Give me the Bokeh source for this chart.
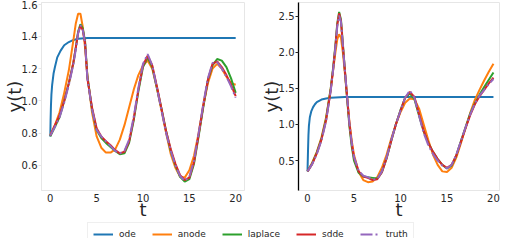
from bokeh.plotting import figure
from bokeh.layouts import column, row
from bokeh.models import FixedTicker, Legend, LegendItem, Range1d, ColumnDataSource, NumeralTickFormatter
from bokeh.embed import file_html
from bokeh.resources import INLINE

# ---------------- data ----------------
series_names = ["ode", "anode", "laplace", "sdde", "truth"]
colors = ["#1f77b4", "#ff7f0e", "#2ca02c", "#d62728", "#9467bd"]

# left panel
t_left = [0, 0.5, 1, 1.5, 2, 2.5, 2.75, 3, 3.25, 3.5, 3.75, 4, 4.5, 5, 5.5, 6, 6.5, 7, 7.5, 8,
          8.5, 9, 9.5, 10, 10.5, 11, 11.5, 12, 12.5, 13, 13.5, 14, 14.5, 15, 15.5, 16, 16.5,
          17, 17.5, 18, 18.5, 19, 19.5, 20]
t_ode_left = [0, 0.03, 0.07, 0.12, 0.2, 0.35, 0.5, 0.75, 1.1, 1.5, 2, 2.5, 3, 4, 20]
ode_left = [0.78, 0.88, 0.97, 1.04, 1.10, 1.17, 1.21, 1.27, 1.31, 1.345, 1.365, 1.378, 1.385, 1.39, 1.39]
anode_left = [0.79, 0.85, 0.93, 1.05, 1.19, 1.38, 1.48, 1.54, 1.54, 1.46, 1.33, 1.16, 0.93, 0.78,
              0.71, 0.68, 0.68, 0.70, 0.76, 0.85, 0.96, 1.07, 1.16, 1.22, 1.25, 1.20, 1.08, 0.94,
              0.80, 0.67, 0.585, 0.53, 0.525, 0.57, 0.66, 0.80, 0.97, 1.11, 1.20, 1.23, 1.20,
              1.15, 1.11, 1.10]
laplace_left = [0.78, 0.84, 0.90, 1.00, 1.11, 1.24, 1.33, 1.43, 1.475, 1.45, 1.37, 1.15, 0.95,
                0.82, 0.77, 0.74, 0.715, 0.69, 0.67, 0.675, 0.74, 0.88, 1.06, 1.21, 1.27, 1.21,
                1.08, 0.95, 0.81, 0.69, 0.60, 0.53, 0.50, 0.515, 0.61, 0.78, 0.96, 1.13, 1.22,
                1.26, 1.25, 1.21, 1.14, 1.05]
sdde_left = [0.785, 0.85, 0.91, 1.00, 1.11, 1.24, 1.33, 1.42, 1.465, 1.44, 1.36, 1.14, 0.96, 0.83,
             0.78, 0.75, 0.725, 0.695, 0.675, 0.685, 0.75, 0.89, 1.07, 1.22, 1.28, 1.22, 1.09,
             0.95, 0.81, 0.70, 0.61, 0.54, 0.51, 0.525, 0.62, 0.79, 0.97, 1.13, 1.23, 1.245,
             1.21, 1.16, 1.10, 1.03]
truth_left = [0.785, 0.84, 0.90, 0.99, 1.10, 1.23, 1.32, 1.42, 1.47, 1.44, 1.36, 1.14, 0.95, 0.82,
              0.78, 0.75, 0.72, 0.69, 0.675, 0.69, 0.76, 0.90, 1.08, 1.23, 1.29, 1.22, 1.08,
              0.94, 0.80, 0.69, 0.60, 0.535, 0.505, 0.53, 0.63, 0.80, 0.98, 1.14, 1.235, 1.24,
              1.20, 1.15, 1.09, 1.02]

# right panel
t_right = [0, 0.5, 1, 1.5, 2, 2.5, 2.75, 3, 3.2, 3.4, 3.6, 3.8, 4, 4.25, 4.5, 4.75, 5, 5.5, 6,
           6.5, 7, 7.5, 8, 8.5, 9, 9.5, 10, 10.5, 11, 11.5, 12, 12.5, 13, 13.5, 14, 14.5, 15,
           15.5, 16, 16.5, 17, 17.5, 18, 18.5, 19, 19.5, 20]
t_ode_right = [0, 0.05, 0.1, 0.15, 0.25, 0.4, 0.6, 0.8, 1, 1.5, 2, 2.5, 3, 4, 20]
ode_right = [0.35, 0.62, 0.85, 0.98, 1.10, 1.18, 1.24, 1.28, 1.31, 1.345, 1.36, 1.37, 1.375, 1.38, 1.38]
anode_right = [0.35, 0.47, 0.62, 0.82, 1.10, 1.50, 1.75, 2.00, 2.18, 2.25, 2.20, 2.00, 1.74, 1.38,
               1.05, 0.78, 0.58, 0.34, 0.23, 0.20, 0.21, 0.27, 0.40, 0.58, 0.80, 1.00, 1.17,
               1.30, 1.36, 1.35, 1.22, 1.00, 0.78, 0.58, 0.44, 0.35, 0.34, 0.40, 0.54, 0.74,
               0.95, 1.16, 1.34, 1.48, 1.61, 1.73, 1.84]
laplace_right = [0.35, 0.46, 0.61, 0.80, 1.08, 1.50, 1.78, 2.10, 2.40, 2.56, 2.45, 2.12, 1.78,
                 1.38, 0.98, 0.70, 0.50, 0.33, 0.28, 0.27, 0.26, 0.25, 0.34, 0.53, 0.77, 1.00,
                 1.20, 1.37, 1.43, 1.35, 1.12, 0.90, 0.74, 0.62, 0.52, 0.44, 0.39, 0.43, 0.57,
                 0.77, 0.96, 1.15, 1.29, 1.41, 1.52, 1.62, 1.72]
sdde_right = [0.35, 0.45, 0.60, 0.79, 1.06, 1.48, 1.76, 2.08, 2.38, 2.54, 2.43, 2.10, 1.78, 1.40,
              1.02, 0.74, 0.54, 0.35, 0.28, 0.26, 0.23, 0.24, 0.34, 0.53, 0.77, 1.00, 1.19,
              1.37, 1.45, 1.38, 1.14, 0.91, 0.74, 0.62, 0.52, 0.44, 0.40, 0.44, 0.57, 0.76,
              0.95, 1.13, 1.28, 1.39, 1.48, 1.57, 1.65]
truth_right = [0.35, 0.45, 0.59, 0.78, 1.05, 1.47, 1.75, 2.07, 2.36, 2.51, 2.42, 2.10, 1.78, 1.40,
               1.02, 0.75, 0.55, 0.36, 0.29, 0.27, 0.235, 0.245, 0.35, 0.54, 0.78, 1.00, 1.19,
               1.37, 1.47, 1.37, 1.12, 0.88, 0.71, 0.59, 0.50, 0.43, 0.39, 0.44, 0.58, 0.77,
               0.96, 1.14, 1.29, 1.40, 1.48, 1.56, 1.63]

x_ticks = [0, 5, 10, 15, 20]
y_ticks_left = [0.6, 0.8, 1.0, 1.2, 1.4, 1.6]
y_ticks_right = [0.5, 1.0, 1.5, 2.0, 2.5]

FONT = "DejaVu Sans"
TRUTH_DASH = "12 3 2 3"
PANEL_H = 222


def make_panel(width, border_left, border_right, x_range, y_range, y_ticks, dark_left):
    p = figure(width=width, height=PANEL_H, output_backend="svg", toolbar_location=None,
               x_range=Range1d(*x_range), y_range=Range1d(*y_range),
               min_border_left=border_left, min_border_right=border_right,
               min_border_top=2, min_border_bottom=28)
    p.grid.visible = False
    p.outline_line_color = "#e6e6e6"
    p.outline_line_width = 1
    p.background_fill_color = "white"
    p.border_fill_color = "white"
    for ax in (p.xaxis[0], p.yaxis[0]):
        ax.major_label_text_font = FONT
        ax.major_label_text_font_size = "10px"
        ax.major_label_text_color = "#262626"
        ax.axis_label_text_font = FONT
        ax.axis_label_text_font_size = "18px"
        ax.axis_label_text_font_style = "normal"
        ax.axis_label_text_color = "#262626"
        ax.minor_tick_line_color = None
        ax.major_tick_in = 0
        ax.axis_line_color = "#e6e6e6"
        ax.major_tick_line_color = "#e6e6e6"
    p.xaxis.ticker = FixedTicker(ticks=x_ticks)
    p.yaxis.ticker = FixedTicker(ticks=y_ticks)
    p.yaxis.formatter = NumeralTickFormatter(format="0.0")
    p.xaxis.axis_label = "t"
    p.yaxis.axis_label = "y(t)"
    p.xaxis.major_tick_out = 0
    p.xaxis.major_label_standoff = 3
    p.xaxis.axis_label_standoff = -6
    p.yaxis.major_tick_out = 3
    p.yaxis.major_label_standoff = 1
    p.yaxis.axis_label_standoff = -6
    p.xaxis.major_tick_line_color = None
    if dark_left:
        p.yaxis.axis_line_color = "black"
        p.yaxis.axis_line_width = 1.3
        p.yaxis.major_tick_line_color = "#262626"
    return p


def draw(p, t, ode_t, ode, anode, laplace, sdde, truth):
    p.line(ode_t, ode, line_color=colors[0], line_width=2)
    p.line(t, anode, line_color=colors[1], line_width=2)
    p.line(t, laplace, line_color=colors[2], line_width=2)
    p.line(t, sdde, line_color=colors[3], line_width=2)
    p.line(t, truth, line_color=colors[4], line_width=2, line_dash=TRUTH_DASH)


p1 = make_panel(252, 35, 8, (-0.95, 20.95), (0.445, 1.61), y_ticks_left, False)
draw(p1, t_left, t_ode_left, ode_left, anode_left, laplace_left, sdde_left, truth_left)

p2 = make_panel(248, 46, 1, (-0.97, 20.65), (0.085, 2.69), y_ticks_right, True)
draw(p2, t_right, t_ode_right, ode_right, anode_right, laplace_right, sdde_right, truth_right)

# legend strip (legend-only renderers sit outside the visible range)
pl = figure(width=500, height=238 - PANEL_H, output_backend="svg", toolbar_location=None,
            x_range=Range1d(0, 1), y_range=Range1d(0, 1),
            min_border=0, min_border_left=0, min_border_right=0,
            min_border_top=0, min_border_bottom=0)
pl.axis.visible = False
pl.grid.visible = False
pl.outline_line_color = None
items = []
for i, name in enumerate(series_names):
    src = ColumnDataSource(data=dict(x=[5, 6], y=[5, 5]))
    kw = dict(line_color=colors[i], line_width=2)
    if name == "truth":
        kw["line_dash"] = TRUTH_DASH
    r = pl.line("x", "y", source=src, **kw)
    items.append(LegendItem(label=name, renderers=[r]))
leg = Legend(items=items, orientation="horizontal", location=(87, -8),
             label_text_font=FONT, label_text_font_size="9px", label_text_color="#262626",
             glyph_width=20, glyph_height=12, label_height=12, label_width=10,
             label_standoff=6, spacing=16, padding=5, margin=0,
             border_line_color="#e0e0e0", border_line_width=1,
             background_fill_color="white", background_fill_alpha=1.0)
pl.add_layout(leg, "center")

layout = column(row(p1, p2, spacing=0), pl, spacing=0)

open("out.html", "w").write(file_html(layout, INLINE))
